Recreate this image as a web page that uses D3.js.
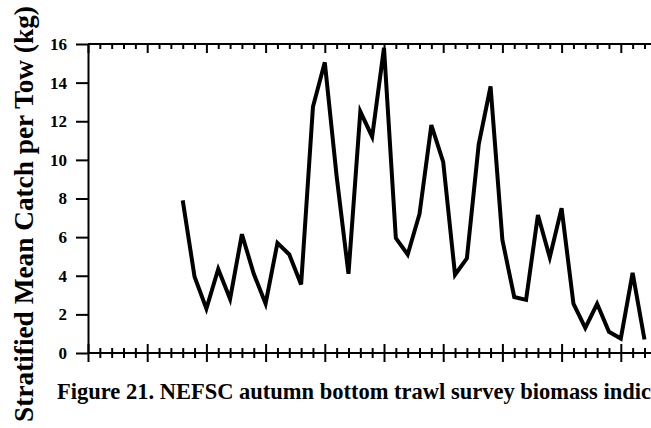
<!DOCTYPE html>
<html>
<head>
<meta charset="utf-8">
<script src="https://cdn.jsdelivr.net/npm/d3@7"></script>
<style>
  body { margin: 0; background: #fff; }
  svg { display: block; }
  .axis text { font-family: "Liberation Serif", "Times New Roman", serif; font-weight: bold; font-size: 17px; fill: #000; }
  .axis line, .axis path { stroke: #000; stroke-width: 2px; }
</style>
</head>
<body>
<div id="chart"></div>
<script>
// survey years and stratified mean catch per tow (kg)
var years = [1963, 1964, 1965, 1966, 1967, 1968, 1969, 1970, 1971, 1972,
  1973, 1974, 1975, 1976, 1977, 1978, 1979, 1980, 1981, 1982,
  1983, 1984, 1985, 1986, 1987, 1988, 1989, 1990, 1991, 1992,
  1993, 1994, 1995, 1996, 1997, 1998, 1999, 2000, 2001, 2002];
var catchKg = [7.9, 3.95, 2.3, 4.35, 2.8, 6.15, 4.1, 2.55, 5.7, 5.1,
  3.55, 12.75, 15.05, 9.15, 4.1, 12.5, 11.2, 15.8, 5.95, 5.1,
  7.2, 11.8, 9.9, 4.05, 4.9, 10.8, 13.8, 5.85, 2.9, 2.75,
  7.15, 4.95, 7.5, 2.55, 1.3, 2.55, 1.1, 0.75, 4.15, 0.7];
var yTicks = [0, 2, 4, 6, 8, 10, 12, 14, 16];
var yLabel = "Stratified Mean Catch per Tow (kg)";
var caption = "Figure 21. NEFSC autumn bottom trawl survey biomass indices for";

var width = 651, height = 428;

var svg = d3.select("#chart").append("svg")
  .attr("width", width)
  .attr("height", height);

// 11.84 px per year, first tick at 1955
var x = d3.scaleLinear().domain([1955, 2005]).range([88, 88 + 50 * 11.84]);
var y = d3.scaleLinear().domain([0, 16]).range([353, 44]);

var majorYears = d3.range(1955, 2005, 5);
var minorYears = d3.range(1955, 2005).filter(function(d) { return d % 5 != 0; });

// bottom axis, ticks cross the line
function bottomTicks(vals, len) {
  var g = svg.append("g")
    .attr("class", "axis")
    .attr("transform", "translate(0," + y(0) + ")")
    .call(d3.axisBottom(x).tickValues(vals).tickSize(len).tickSizeOuter(0).tickFormat(""));
  g.select(".domain").remove();
  g.selectAll(".tick line").attr("y1", -len).attr("y2", len);
}
bottomTicks(minorYears, 5);
bottomTicks(majorYears, 9);

// top axis, ticks point down
function topTicks(vals, len) {
  var g = svg.append("g")
    .attr("class", "axis")
    .attr("transform", "translate(0," + y(16) + ")")
    .call(d3.axisBottom(x).tickValues(vals).tickSize(len).tickSizeOuter(0).tickFormat(""));
  g.select(".domain").remove();
}
topTicks(minorYears, 5);
topTicks(majorYears, 9);

// horizontal frame lines
[0, 16].forEach(function(v) {
  svg.append("line")
    .attr("x1", x(1955)).attr("x2", width)
    .attr("y1", y(v)).attr("y2", y(v))
    .style("stroke", "#000")
    .style("stroke-width", 2);
});

// left axis
svg.append("g")
  .attr("class", "axis")
  .attr("transform", "translate(" + x(1955) + ",0)")
  .call(d3.axisLeft(y).tickValues(yTicks).tickSize(12).tickSizeOuter(0).tickPadding(9));

// data line
var line = d3.line()
  .x(function(d, i) { return x(years[i]); })
  .y(function(d) { return y(d); });

svg.append("path")
  .datum(catchKg)
  .attr("d", line)
  .style("fill", "none")
  .style("stroke", "#000")
  .style("stroke-width", 4)
  .style("stroke-linejoin", "miter");

// y-axis title
svg.append("text")
  .attr("transform", "translate(33,214) rotate(-90)")
  .attr("text-anchor", "middle")
  .style("font-family", "'Liberation Serif', 'Times New Roman', serif")
  .style("font-weight", "bold")
  .style("font-size", "27.3px")
  .text(yLabel);

// figure caption, sized so that "...indic" reaches the right edge
var cap = svg.append("text")
  .attr("x", 57)
  .attr("y", 399)
  .style("font-family", "'Liberation Serif', 'Times New Roman', serif")
  .style("font-weight", "bold")
  .style("font-size", "20px")
  .text(caption);
var cut = caption.indexOf("indic") + 5;
var w = cap.node().getSubStringLength(0, cut);
cap.style("font-size", (20 * (width - 57) / w) + "px");
</script>
</body>
</html>
